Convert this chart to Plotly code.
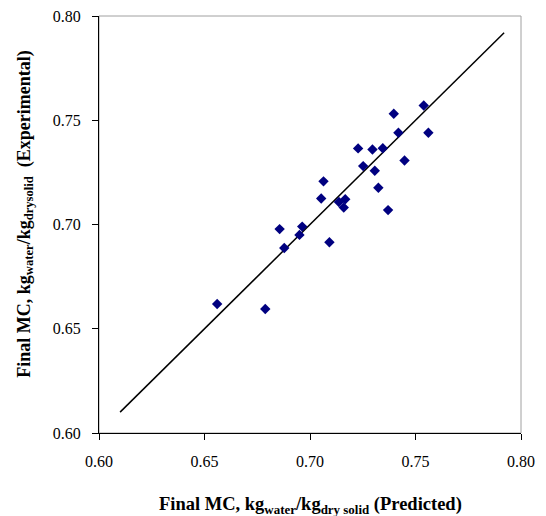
import plotly.graph_objects as go

predicted = [0.6560, 0.6788, 0.6856, 0.6878, 0.6950, 0.6963, 0.7053, 0.7064, 0.7092, 0.7137,
             0.7167, 0.7160, 0.7228, 0.7252, 0.7296, 0.7307, 0.7324, 0.7345, 0.7370, 0.7397,
             0.7419, 0.7448, 0.7539, 0.7561]
experimental = [0.6619, 0.6595, 0.6978, 0.6887, 0.6950, 0.6990, 0.7125, 0.7207, 0.6915, 0.7108,
                0.7121, 0.7081, 0.7365, 0.7280, 0.7360, 0.7258, 0.7176, 0.7366, 0.7069, 0.7531,
                0.7440, 0.7307, 0.7571, 0.7440]
line_x = [0.610, 0.792]
line_y = [0.610, 0.792]
ticks = [0.60, 0.65, 0.70, 0.75, 0.80]
tick_text = ["0.60", "0.65", "0.70", "0.75", "0.80"]
x_title = "<b>Final MC, kg<sub>water</sub>/kg<sub>dry solid</sub> (Predicted)</b>"
y_title = "<b>Final MC, kg<sub>water</sub>/kg<sub>drysolid</sub>  (Experimental)</b>"

font = "Liberation Serif, Times New Roman, serif"

fig = go.Figure()
fig.add_trace(go.Scatter(x=line_x, y=line_y, mode="lines",
                         line=dict(color="black", width=1.5), showlegend=False, hoverinfo="skip"))
fig.add_trace(go.Scatter(x=predicted, y=experimental, mode="markers",
                         marker=dict(symbol="diamond", color="#000080", size=8),
                         showlegend=False))

fig.add_shape(type="rect", xref="paper", yref="paper", x0=0, y0=0, x1=1, y1=1,
              line=dict(color="#a0a0a0", width=1), layer="below")

axis_common = dict(range=[0.60, 0.80], tickvals=ticks, ticktext=tick_text,
                   showgrid=False, zeroline=False, showline=True, linecolor="black",
                   linewidth=1, ticks="outside", ticklen=6, tickcolor="black",
                   ticklabelstandoff=8, automargin=False,
                   tickfont=dict(family=font, size=16, color="black"))

fig.update_xaxes(**axis_common)
fig.update_yaxes(**axis_common)

fig.add_annotation(text=x_title, xref="paper", yref="paper", x=0.5, y=-0.175,
                   xanchor="center", yanchor="middle", showarrow=False,
                   font=dict(family=font, size=18.5, color="black"))
fig.add_annotation(text=y_title, xref="paper", yref="paper", x=-0.175, y=0.524,
                   xanchor="center", yanchor="middle", showarrow=False, textangle=-90,
                   font=dict(family=font, size=18, color="black"))

fig.update_layout(width=546, height=516, margin=dict(l=99, r=25, t=16, b=83),
                  plot_bgcolor="white", paper_bgcolor="white",
                  font=dict(family=font, color="black"))

fig.write_html("out.html", config={"displayModeBar": False},
               post_script="document.body.style.margin='0';document.body.style.overflow='hidden';")
